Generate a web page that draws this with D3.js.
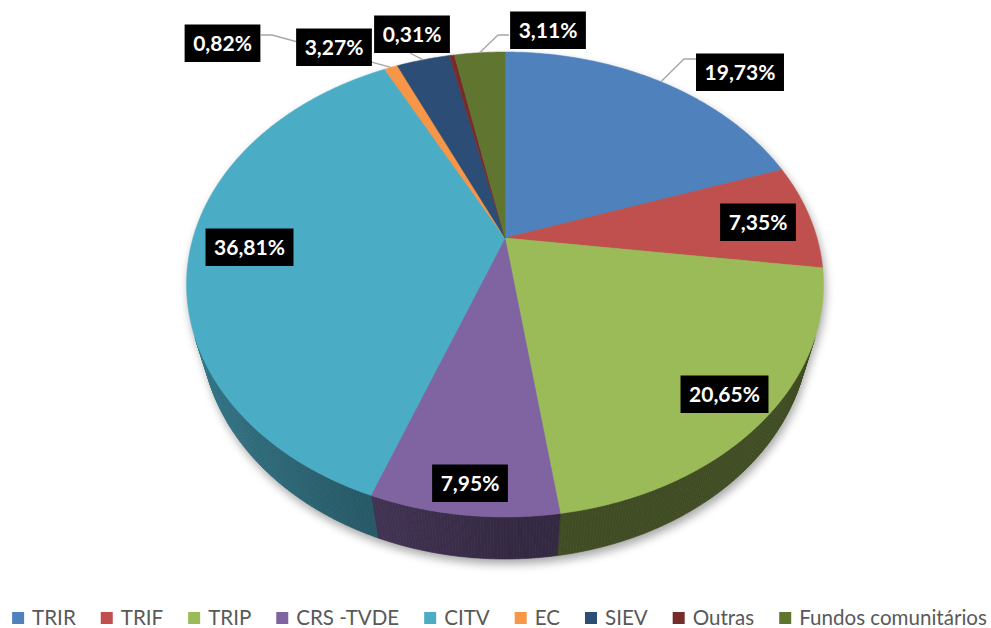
<!DOCTYPE html>
<html>
<head>
<meta charset="utf-8">
<script src="https://cdn.jsdelivr.net/npm/d3@7"></script>
<style>
  html, body { margin: 0; padding: 0; background: #ffffff; }
  svg { display: block; }
</style>
</head>
<body>
<div id="chart"></div>
<script>
// ---------- data ----------
const categories = ["TRIR", "TRIF", "TRIP", "CRS -TVDE", "CITV", "EC", "SIEV", "Outras", "Fundos comunitários"];
const values = [19.73, 7.35, 20.65, 7.95, 36.81, 0.82, 3.27, 0.31, 3.11];
const colors = ["#4f81bd", "#c0504d", "#9bbb59", "#8064a2", "#4bacc6", "#f79646", "#2c4d75", "#772c2a", "#5f7530"];

// ---------- layout (label boxes & leader elbows) ----------
const labelCenters = [[740, 72], [758, 222], [724.5, 394], [470, 483], [249.5, 247], [222.5, 43], [334, 47], [412, 34], [548, 30]];
const leaderPaths = [
  [[696, 59], [684, 59]],   // TRIR
  null, null, null, null,
  [[261, 35], [272, 35]],   // EC
  [[410, 53]],              // SIEV
  null,
  [[509, 35], [498, 35]]    // Fundos
];

const W = 991, H = 628;
const svg = d3.select("#chart").append("svg").attr("width", W).attr("height", H);

// ---------- 3D perspective projection of the pie ----------
const CX = 505, CY = 238;       // projected centre
const A = 1560;                 // focal scale
const S = 0.7154, C = Math.sqrt(1 - S * S), T = S / C;
const K = 5;                    // camera distance factor
const DEPTH = 0.2207;           // pie thickness (radius units)

function proj(theta, y) {
  const X = Math.sin(theta), Z = Math.cos(theta);
  const den = K + Z - y * T;
  return [CX + A * X / den, CY - A * (y * C + Z * S) / den];
}
const visLimit = Math.acos(-1 / (K * C * C));   // start of front-facing wall
const vis0 = visLimit, vis1 = 2 * Math.PI - visLimit;

const pie = d3.pie().sort(null).value(d => d).startAngle(0).endAngle(2 * Math.PI);
const arcs = pie(values);

const line = d3.line();
const STEP = Math.PI / 360;
function arcPts(a0, a1, y) {
  const n = Math.max(2, Math.ceil(Math.abs(a1 - a0) / STEP));
  return d3.range(n + 1).map(i => proj(a0 + (a1 - a0) * i / n, y));
}

// ---------- shadow ----------
const defs = svg.append("defs");
const f = defs.append("filter").attr("id", "blur").attr("x", "-20%").attr("y", "-20%").attr("width", "140%").attr("height", "140%");
f.append("feGaussianBlur").attr("stdDeviation", 5);
const shadow = svg.append("g").attr("filter", "url(#blur)").attr("transform", "translate(2,5)").attr("opacity", 0.35);
shadow.append("path").attr("d", line(arcPts(0, 2 * Math.PI, 0)) + "Z").attr("fill", "#000");
shadow.append("path")
  .attr("d", line(arcPts(vis0, vis1, 0).concat(arcPts(vis1, vis0, -DEPTH))) + "Z")
  .attr("fill", "#000");

// ---------- side walls ----------
function shadeFactor(t) { return 0.41 + 0.3 * Math.max(0, -Math.sin(t)); }
const walls = svg.append("g");
arcs.forEach((a, i) => {
  const s0 = Math.max(a.startAngle, vis0), s1 = Math.min(a.endAngle, vis1);
  if (s1 <= s0) return;
  const n = Math.max(1, Math.ceil((s1 - s0) / STEP));
  const base = d3.rgb(colors[i]);
  for (let k = 0; k < n; k++) {
    const t0 = s0 + (s1 - s0) * k / n, t1 = s0 + (s1 - s0) * (k + 1) / n;
    const fct = shadeFactor((t0 + t1) / 2);
    const col = d3.rgb(base.r * fct, base.g * fct, base.b * fct).formatHex();
    walls.append("path")
      .attr("d", line([proj(t0, 0), proj(t1, 0), proj(t1, -DEPTH), proj(t0, -DEPTH)]) + "Z")
      .attr("fill", col).attr("stroke", col).attr("stroke-width", 0.6);
  }
});

// ---------- top faces ----------
svg.append("g").selectAll("path").data(arcs).join("path")
  .attr("d", a => line([[CX, CY]].concat(arcPts(a.startAngle, a.endAngle, 0))) + "Z")
  .attr("fill", (a, i) => colors[i])
  .attr("stroke", (a, i) => colors[i]).attr("stroke-width", 0.5);

// ---------- leader lines ----------
const gl = svg.append("g");
arcs.forEach((a, i) => {
  if (!leaderPaths[i]) return;
  const target = proj((a.startAngle + a.endAngle) / 2, 0);
  gl.append("path").attr("d", line(leaderPaths[i].concat([target])))
    .attr("fill", "none").attr("stroke", "#a6a6a6").attr("stroke-width", 1.3);
});

// ---------- labels ----------
const locale = d3.formatLocale({ decimal: ",", thousands: ".", grouping: [3], currency: ["", "€"] });
const fmt = locale.format(".2f");
const FONT = "Lato, 'Open Sans', sans-serif";
// calibrate label font so a six-character label is ~71px wide
const probe = svg.append("text").text("36,81%").attr("font-family", FONT).attr("font-weight", "bold").attr("font-size", 20);
const LFS = 20 * 71 / probe.node().getComputedTextLength();
probe.remove();
const gLab = svg.append("g");
values.forEach((v, i) => {
  const [x, y] = labelCenters[i];
  const g = gLab.append("g").attr("transform", `translate(${x},${y})`);
  const rect = g.append("rect").attr("fill", "#000");
  const txt = g.append("text").text(fmt(v) + "%")
    .attr("text-anchor", "middle").attr("y", LFS * 0.36)
    .attr("font-family", FONT).attr("font-weight", "bold")
    .attr("font-size", LFS).attr("fill", "#fff");
  const w = txt.node().getComputedTextLength() + 17;
  rect.attr("x", -w / 2).attr("y", -18.5).attr("width", w).attr("height", 37.5);
});

// ---------- legend ----------
const legend = svg.append("g");
const GAP = 25, SW = 12, TX = 20;
const probeTexts = categories.map(c => svg.append("text").text(c).attr("font-family", FONT).attr("font-size", 20));
const textSum = d3.sum(probeTexts, t => t.node().getComputedTextLength());
probeTexts.forEach(t => t.remove());
const FS = 20 * (975 - TX * categories.length - GAP * (categories.length - 1)) / textSum;
const items = categories.map((c, i) => {
  const g = legend.append("g");
  g.append("rect").attr("width", SW).attr("height", SW).attr("y", -6).attr("fill", colors[i]);
  const t = g.append("text").text(c).attr("x", TX).attr("y", FS * 0.36)
    .attr("font-family", FONT).attr("font-size", FS).attr("fill", "#595959");
  return { g, w: TX + t.node().getComputedTextLength() };
});
const total = d3.sum(items, d => d.w) + GAP * (items.length - 1);
let xpos = 499.5 - total / 2;
items.forEach(it => {
  it.g.attr("transform", `translate(${xpos},618)`);
  xpos += it.w + GAP;
});
</script>
</body>
</html>
